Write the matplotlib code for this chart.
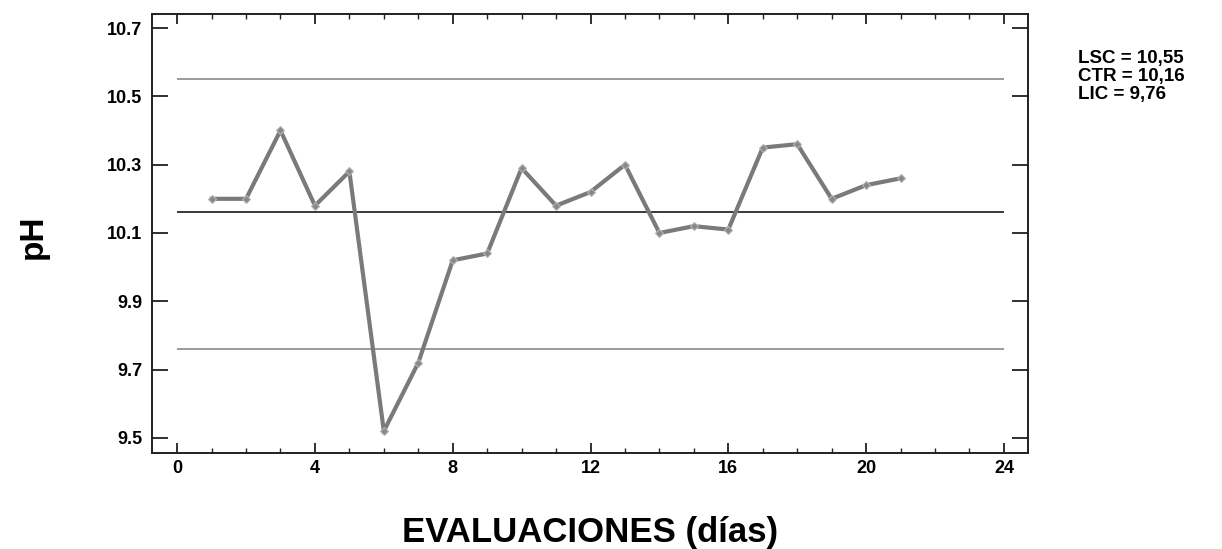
import matplotlib
matplotlib.use("Agg")
import matplotlib.pyplot as plt
from matplotlib.ticker import MultipleLocator, FixedLocator

dias = list(range(1, 22))
ph = [10.20, 10.20, 10.40, 10.18, 10.28, 9.52, 9.72, 10.02, 10.04, 10.29,
      10.18, 10.22, 10.30, 10.10, 10.12, 10.11, 10.35, 10.36, 10.20, 10.24, 10.26]
lsc = 10.55
ctr = 10.16
lic = 9.76
x_ticks = [0, 4, 8, 12, 16, 20, 24]
y_ticks = [9.5, 9.7, 9.9, 10.1, 10.3, 10.5, 10.7]
limit_labels = ["LSC = 10,55", "CTR = 10,16", "LIC = 9,76"]

plt.rcParams['font.family'] = ['Liberation Sans', 'DejaVu Sans']

W, H = 1222, 549
fig = plt.figure(figsize=(W/100, H/100), dpi=100)
ax = fig.add_axes([152/W, 1 - 453/H, (1028-152)/W, (453-14)/H])

ax.hlines([lsc, lic], 0, 24, color='#8a8a8a', lw=1.2, zorder=1)
ax.hlines([ctr], 0, 24, color='#2a2a2a', lw=1.3, zorder=1)
ax.plot(dias, ph, color='#7a7a7a', lw=3.0, marker='D', ms=4.5,
        mfc='#888888', mec='#b5b5b5', mew=0.8, zorder=3)

ax.set_xlim(-0.73, 24.7)
ax.set_ylim(9.456, 10.741)
ax.xaxis.set_major_locator(FixedLocator(x_ticks))
ax.xaxis.set_minor_locator(MultipleLocator(1))
ax.yaxis.set_major_locator(FixedLocator(y_ticks))
ax.set_xticklabels([str(t) for t in x_ticks])
ax.set_yticklabels([f"{t:.1f}" for t in y_ticks])

ax.tick_params(axis='both', which='both', direction='in', top=True, right=True,
               color='#202020')
ax.tick_params(axis='x', which='major', length=7, width=1.3, labelsize=13, pad=5)
ax.tick_params(axis='x', which='minor', length=3.5, width=1.0)
ax.tick_params(axis='y', which='major', length=11.5, width=1.3, labelsize=13, pad=7)
for lbl in ax.get_xticklabels() + ax.get_yticklabels():
    lbl.set_fontweight('bold')
for sp in ax.spines.values():
    sp.set_linewidth(1.4)
    sp.set_color('#202020')

fig.text(33/W, 1 - 237/H, "pH", rotation=90, ha='center', va='center',
         fontsize=24, fontweight='bold')
fig.text(590/W, 1 - 542/H, "EVALUACIONES (días)", ha='center', va='baseline',
         fontsize=25, fontweight='bold')

for i, t in enumerate(limit_labels):
    fig.text(1078/W, 1 - (59 + 17.5*i)/H, t, ha='left', va='center',
             fontsize=13.5, fontweight='bold')

fig.savefig("out.png", dpi=100, facecolor='white')
